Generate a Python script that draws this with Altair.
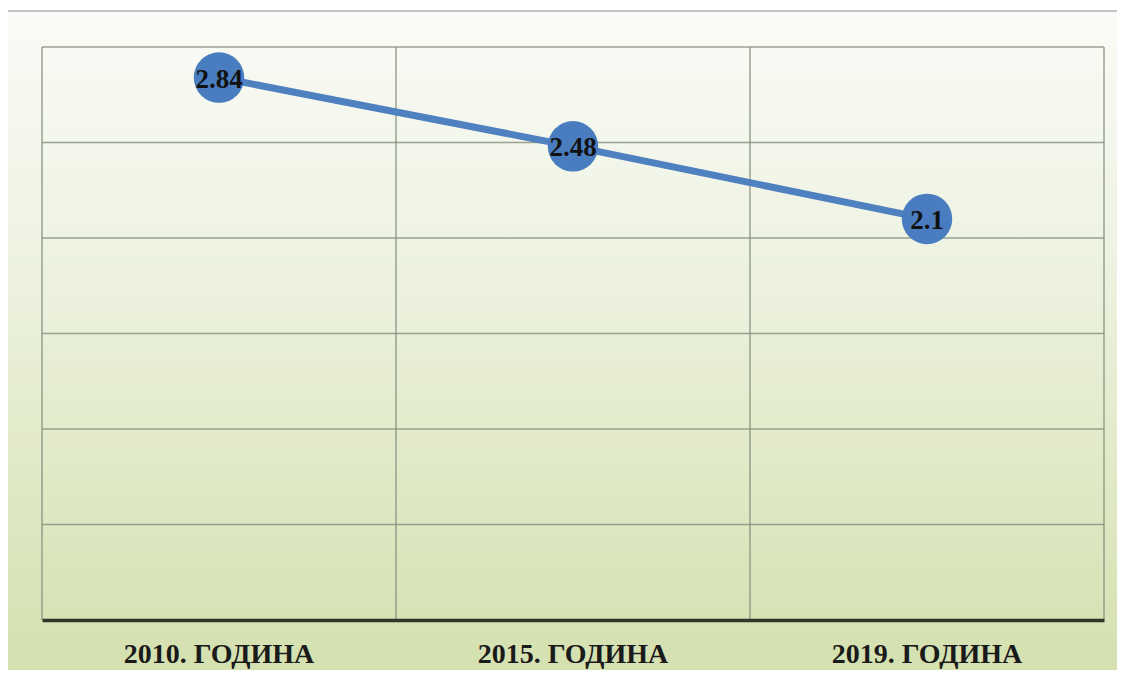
import altair as alt
import pandas as pd

years = ["2010. ГОДИНА", "2015. ГОДИНА", "2019. ГОДИНА"]
values = [2.84, 2.48, 2.1]
labels = ["2.84", "2.48", "2.1"]
y_grid = [0.5, 1.0, 1.5, 2.0, 2.5, 3.0]

df = pd.DataFrame({"year": years, "value": values, "label": labels})
grid_df = pd.DataFrame({"v": y_grid})
bg_df = pd.DataFrame({"a": [0]})
last_df = pd.DataFrame({"year": [years[-1]]})

xscale = alt.Scale(type="band", paddingInner=0, paddingOuter=0, domain=years)
yscale = alt.Scale(domain=[0, 3])

gradient = alt.Gradient(
    gradient="linear", x1=0, y1=0, x2=0, y2=1,
    stops=[alt.GradientStop(color="#fafbf7", offset=0),
           alt.GradientStop(color="#eef3e2", offset=0.35),
           alt.GradientStop(color="#d3dfac", offset=1)],
)

bg = alt.Chart(bg_df).mark_rect(color=gradient, stroke="#c4c4c4", strokeWidth=2).encode(
    x=alt.value(-35), x2=alt.value(1100), y=alt.value(-36), y2=alt.value(650)
)

hgrid = alt.Chart(grid_df).mark_rule(color="#858c7c", strokeWidth=1.5, opacity=0.8).encode(
    y=alt.Y("v:Q", scale=yscale, axis=None)
)

vgrid = alt.Chart(df).mark_rule(color="#858c7c", strokeWidth=1.5, opacity=0.8).encode(
    x=alt.X("year:N", scale=xscale, bandPosition=0, sort=None,
            axis=alt.Axis(title=None, ticks=False, labelAngle=0, labelFont="Liberation Serif",
                          labelFontWeight="bold", labelFontSize=28, labelColor="#1a1a1a",
                          labelPadding=20, labelLimit=0, domainColor="#2c3828",
                          domainWidth=3.5, zindex=1, grid=False))
)

vlast = alt.Chart(last_df).mark_rule(color="#858c7c", strokeWidth=1.5, opacity=0.8).encode(
    x=alt.X("year:N", scale=xscale, bandPosition=1)
)

line = alt.Chart(df).mark_line(color="#4f80bf", strokeWidth=7).encode(
    x=alt.X("year:N", scale=xscale, bandPosition=0.5, sort=None),
    y=alt.Y("value:Q", scale=yscale, axis=None),
)

points = alt.Chart(df).mark_circle(color="#4a7dc0", opacity=1, size=2550).encode(
    x=alt.X("year:N", scale=xscale, bandPosition=0.5, sort=None),
    y=alt.Y("value:Q", scale=yscale),
)

text = alt.Chart(df).mark_text(font="Liberation Serif", fontWeight="bold", fontSize=27,
                               color="#111111", baseline="middle", dy=2).encode(
    x=alt.X("year:N", scale=xscale, bandPosition=0.5, sort=None),
    y=alt.Y("value:Q", scale=yscale),
    text="label:N",
)

chart = alt.layer(bg, hgrid, vgrid, vlast, line, points, text).properties(
    width=1062, height=573,
    autosize=alt.AutoSizeParams(type="none"),
    padding={"left": 34, "top": 39, "right": 13, "bottom": 50},
).configure_view(stroke=None).configure(background="white")

chart.save("out.html", embed_options={"renderer": "svg", "actions": False})
